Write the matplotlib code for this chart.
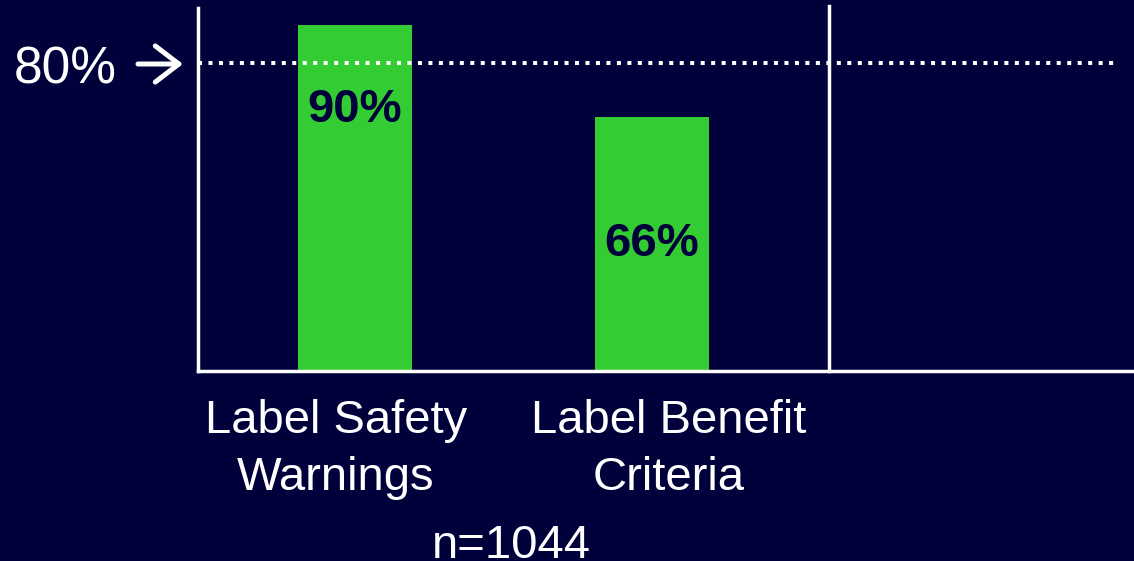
import matplotlib
matplotlib.use("Agg")
import matplotlib.pyplot as plt
import matplotlib.transforms as mtransforms

plt.rcParams['font.family'] = ['Liberation Sans', 'DejaVu Sans']

# survey results
categories = ["Label Safety\nWarnings", "Label Benefit\nCriteria"]
percent = [90, 66]
target = 80
n_total = 1044

bg = "#00003a"
green = "#33cc33"
W, H = 1134, 561

fig = plt.figure(figsize=(W / 100, H / 100), dpi=100, facecolor=bg)
ax = fig.add_axes([198 / W, 1 - 371 / H, 1 - 198 / W, 363 / H])
ax.set_facecolor(bg)

x = list(range(len(categories)))
ax.bar(x, percent, width=0.384, color=green, zorder=2)
ax.set_xlim(-0.529, 2.623)
ax.set_ylim(0, 94.4)

# axis lines
for side in ["top", "right"]:
    ax.spines[side].set_visible(False)
for side in ["left", "bottom"]:
    ax.spines[side].set_color("white")
    ax.spines[side].set_linewidth(2.5)
ax.set_xticks([])
ax.set_yticks([])

# divider on the right
ax.plot([1.596, 1.596], [0, 95], color="white", lw=2.5, clip_on=False, zorder=3)

# 80% target line
ax.plot([-0.529, 2.569], [target, target], color="white", lw=2.9,
        linestyle=(0, (1.0, 1.6)), dash_capstyle="butt", zorder=3)

def fx(px):
    return px / W

def fy(py):
    return 1 - py / H

fig.text(fx(117), fy(83), "%d%%" % target, ha="right", va="baseline",
         color="white", fontsize=37)
ax.annotate("", xy=(fx(183), fy(64)), xytext=(fx(138), fy(64)),
            xycoords="figure fraction", textcoords="figure fraction",
            arrowprops=dict(arrowstyle="->,head_length=0.85,head_width=0.65",
                            color="white", lw=3.6, mutation_scale=20,
                            shrinkA=0, shrinkB=0))

# value labels inside bars
label_y = [percent[0] - 22, percent[1] / 2]
for xi, v, ly in zip(x, percent, label_y):
    ax.text(xi, ly, "%d%%" % v, ha="center", va="center", color=bg,
            fontsize=34, fontweight="bold", zorder=4)

# category labels below axis, one line at a time
trans = mtransforms.blended_transform_factory(ax.transData, fig.transFigure)
cat_x = [-0.064, 1.057]
for cx, name in zip(cat_x, categories):
    for line, base in zip(name.split("\n"), [433, 490]):
        ax.text(cx, fy(base), line, ha="center", va="baseline", color="white",
                fontsize=34, transform=trans)

ax.text(0.525, fy(558), "n=%d" % n_total, ha="center", va="baseline",
        color="white", fontsize=34, transform=trans)

fig.savefig("out.png", dpi=100, facecolor=bg)
